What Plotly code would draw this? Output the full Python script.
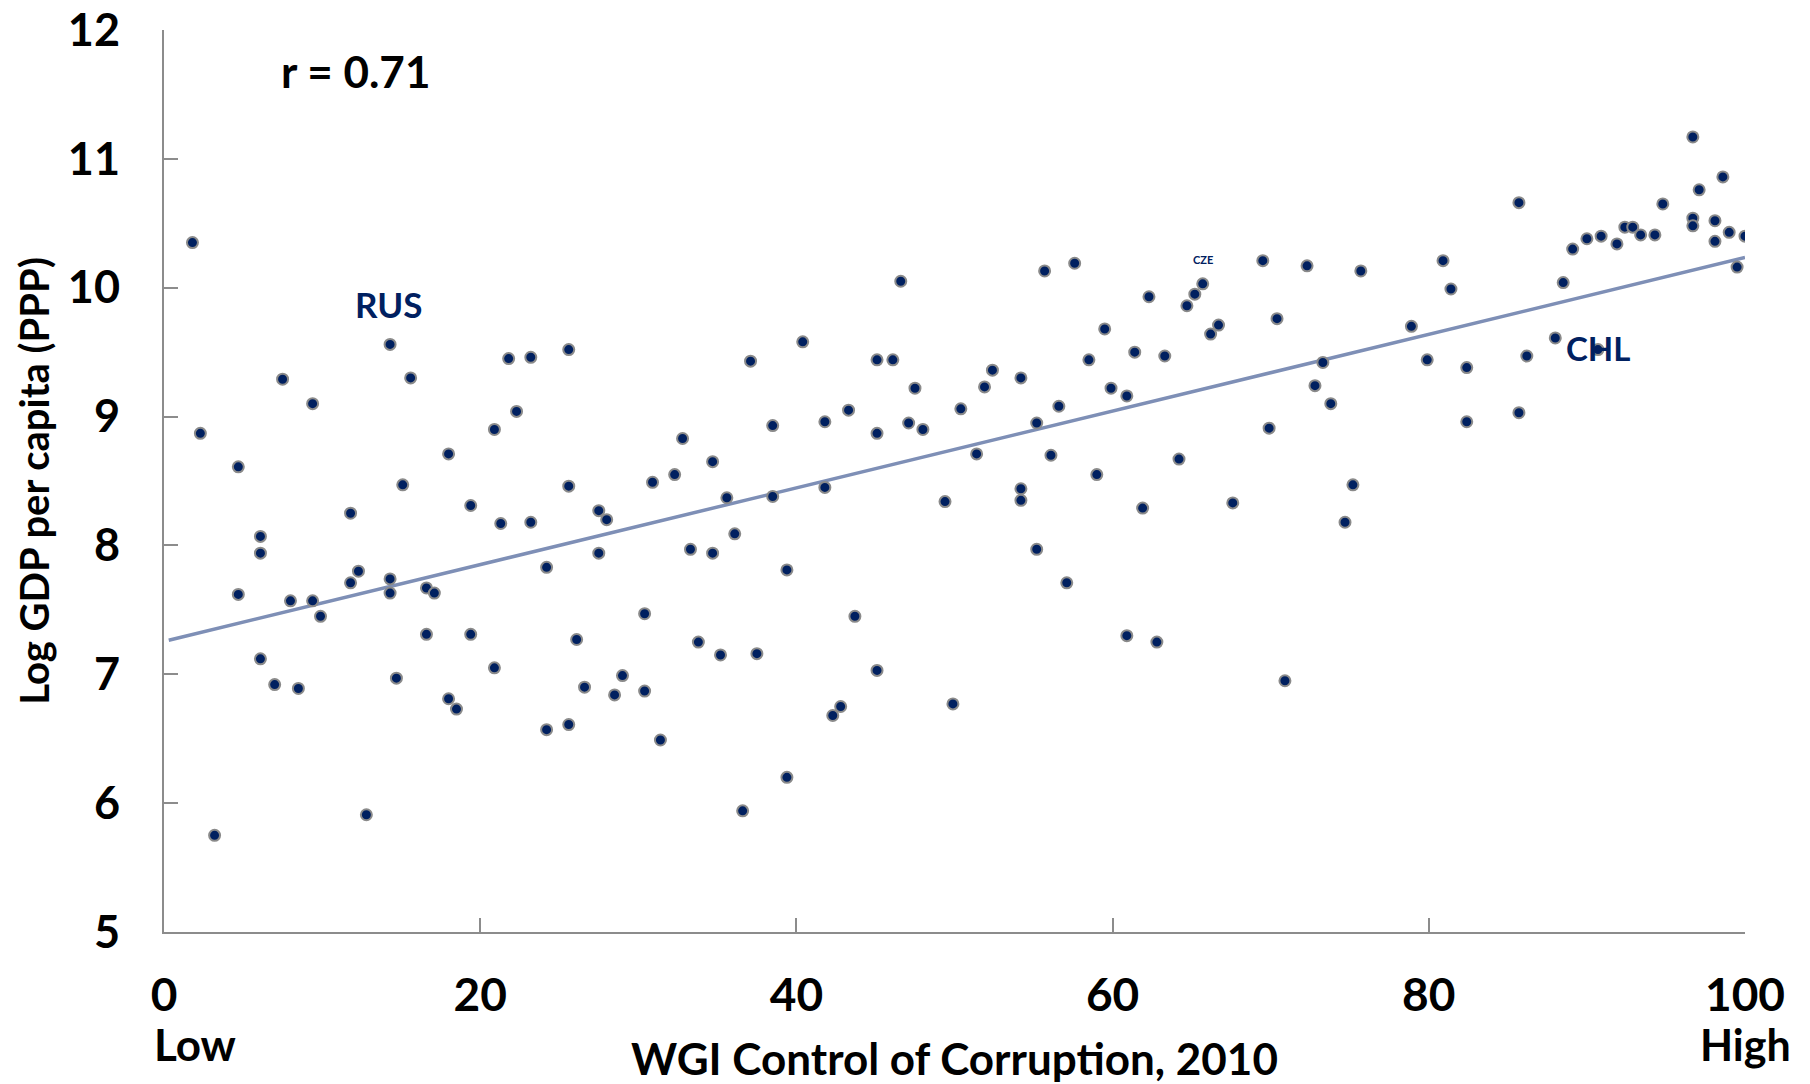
import numpy as np
import plotly.graph_objects as go

# WGI Control of Corruption percentile rank, 2010
wgi = [1.8, 2.3, 3.2, 4.7, 4.7, 6.1, 6.1, 6.1, 7.0, 7.5, 8.0, 8.5, 9.4, 9.4, 9.9,
       11.8, 11.8, 12.3, 12.8, 14.3, 14.3, 14.3, 14.7, 15.1, 15.6, 16.6, 16.6, 17.1,
       18.0, 18.0, 18.5, 19.4, 19.4, 20.9, 20.9, 21.3, 21.8, 22.3, 23.2, 23.2, 24.2,
       24.2, 25.6, 25.6, 25.6, 26.1, 26.6, 27.5, 27.5, 28.0, 28.5, 29.0, 30.4, 30.4,
       30.9, 31.4, 32.3, 32.8, 33.3, 33.8, 34.7, 34.7, 35.2, 35.6, 36.1, 36.6, 37.1,
       37.5, 38.5, 38.5, 39.4, 39.4, 40.4, 41.8, 41.8, 42.3, 42.8, 43.3, 43.7, 45.1,
       45.1, 45.1, 46.1, 46.6, 47.1, 47.5, 48.0, 49.4, 49.9, 50.4, 51.4, 51.9, 52.4,
       54.2, 54.2, 54.2, 55.2, 55.2, 55.7, 56.1, 56.6, 57.1, 57.6, 58.5, 59.0, 59.5,
       59.9, 60.9, 60.9, 61.4, 61.9, 62.3, 62.8, 63.3, 64.2, 64.7, 65.2, 65.7, 66.2,
       66.7, 67.6, 69.5, 69.9, 70.4, 70.9, 72.3, 72.8, 73.3, 73.8, 74.7, 75.2, 75.7,
       78.9, 79.9, 80.9, 81.4, 82.4, 82.4, 85.7, 85.7, 86.2, 88.0, 88.5, 89.1, 90.0,
       90.9, 90.7, 91.9, 92.4, 92.9, 93.4, 94.3, 94.8, 96.7, 96.7, 96.7, 97.1, 98.1,
       98.1, 98.6, 99.0, 99.5, 100.0]

# Log GDP per capita (PPP)
log_gdp = [10.35, 8.87, 5.75, 8.61, 7.62, 8.07, 7.94, 7.12, 6.92, 9.29, 7.57, 6.89, 9.10, 7.57, 7.45,
           8.25, 7.71, 7.80, 5.91, 9.56, 7.74, 7.63, 6.97, 8.47, 9.30, 7.67, 7.31, 7.63,
           8.71, 6.81, 6.73, 8.31, 7.31, 8.90, 7.05, 8.17, 9.45, 9.04, 9.46, 8.18, 7.83,
           6.57, 9.52, 8.46, 6.61, 7.27, 6.90, 8.27, 7.94, 8.20, 6.84, 6.99, 7.47, 6.87,
           8.49, 6.49, 8.55, 8.83, 7.97, 7.25, 8.65, 7.94, 7.15, 8.37, 8.09, 5.94, 9.43,
           7.16, 8.93, 8.38, 7.81, 6.20, 9.58, 8.45, 8.96, 6.68, 6.75, 9.05, 7.45, 9.44,
           8.87, 7.03, 9.44, 10.05, 8.95, 9.22, 8.90, 8.34, 6.77, 9.06, 8.71, 9.23, 9.36,
           9.30, 8.44, 8.35, 8.95, 7.97, 10.13, 8.70, 9.08, 7.71, 10.19, 9.44, 8.55, 9.68,
           9.22, 9.16, 7.30, 9.50, 8.29, 9.93, 7.25, 9.47, 8.67, 9.86, 9.95, 10.03, 9.64,
           9.71, 8.33, 10.21, 8.91, 9.76, 6.95, 10.17, 9.24, 9.42, 9.10, 8.18, 8.47, 10.13,
           9.70, 9.44, 10.21, 9.99, 9.38, 8.96, 10.66, 9.03, 9.47, 9.61, 10.04, 10.30, 10.38,
           10.40, 9.52, 10.34, 10.47, 10.47, 10.41, 10.41, 10.65, 11.17, 10.54, 10.48, 10.76, 10.52,
           10.36, 10.86, 10.43, 10.16, 10.40]

labels = ["RUS", "CZE", "CHL"]
label_x = [14.2, 65.7, 90.7]
label_y = [9.87, 10.22, 9.53]
label_size = [35, 11, 33]

x_ticks = [0, 20, 40, 60, 80, 100]
y_ticks = [5, 6, 7, 8, 9, 10, 11, 12]

navy = "#002060"
font_family = "Lato, 'Open Sans', sans-serif"

xa = np.array(wgi)
ya = np.array(log_gdp)
slope, intercept = np.polyfit(xa, ya, 1)
fit_x = np.array([0.3, 100.0])
fit_y = intercept + slope * fit_x

fig = go.Figure()
fig.add_trace(go.Scatter(
    x=fit_x, y=fit_y, mode="lines",
    line=dict(color="#7e8fb6", width=3.5),
    hoverinfo="skip", showlegend=False,
))
fig.add_trace(go.Scatter(
    x=wgi, y=log_gdp, mode="markers",
    marker=dict(color=navy, size=11, line=dict(color="#8a8a8a", width=2)),
    showlegend=False,
))

for t, lx, ly, s in zip(labels, label_x, label_y, label_size):
    fig.add_annotation(x=lx, y=ly, xref="x", yref="y", text="<b>%s</b>" % t,
                       showarrow=False, font=dict(size=s, color=navy, family=font_family))

fig.add_annotation(x=0.073, y=0.955, xref="paper", yref="paper", xanchor="left", yanchor="middle",
                   text="<b>r = %.2f</b>" % 0.71, showarrow=False,
                   font=dict(size=44, color="black", family=font_family))
fig.add_annotation(x=0, y=-0.1246, xref="x", yref="paper", xanchor="left", yanchor="middle",
                   xshift=-12, text="<b>Low</b>", showarrow=False,
                   font=dict(size=44, color="black", family=font_family))
fig.add_annotation(x=100, y=-0.1246, xref="x", yref="paper", xanchor="center", yanchor="middle",
                   text="<b>High</b>", showarrow=False,
                   font=dict(size=43, color="black", family=font_family))

fig.update_layout(
    width=1810, height=1084,
    margin=dict(l=164, r=65, t=30, b=152),
    paper_bgcolor="white", plot_bgcolor="white",
    font=dict(family=font_family, color="black"),
    xaxis=dict(
        range=[0, 100], tickvals=x_ticks, ticktext=["<b>%d</b>" % v for v in x_ticks],
        automargin=False, ticklabeloverflow="allow",
        showgrid=False, zeroline=False, showline=True, linecolor="#8c8c8c", linewidth=2,
        ticks="inside", ticklen=14, tickwidth=2, tickcolor="#8c8c8c",
        tickfont=dict(size=46, family=font_family, color="black"),
        ticklabelstandoff=22,
        title=dict(text="<b>WGI Control of Corruption, 2010</b>", standoff=26,
                   font=dict(size=44, family=font_family, color="black")),
    ),
    yaxis=dict(
        range=[5, 12], tickvals=y_ticks, ticktext=["<b>%d</b>" % v for v in y_ticks],
        automargin=False, ticklabeloverflow="allow",
        showgrid=False, zeroline=False, showline=True, linecolor="#8c8c8c", linewidth=2,
        ticks="inside", ticklen=14, tickwidth=2, tickcolor="#8c8c8c",
        tickfont=dict(size=45, family=font_family, color="black"),
        ticklabelstandoff=33,
        title=dict(text="<b>Log GDP per capita (PPP)</b>", standoff=6,
                   font=dict(size=40, family=font_family, color="black")),
    ),
)

# remove the default 8px page margin so the figure fills the 1810x1084 window exactly
fig.write_html("out.html", config={"displayModeBar": False},
               post_script="document.body.style.margin='0px';")
